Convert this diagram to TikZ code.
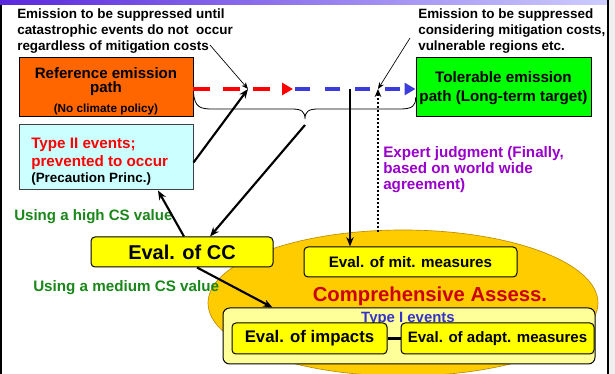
\documentclass[tikz,border=0pt]{standalone}
\usepackage{fontspec}
\setmainfont{Liberation Sans}
\usetikzlibrary{arrows.meta,calc,shapes.geometric}
\definecolor{cOrange}{RGB}{255,102,0}
\definecolor{cCyan}{RGB}{204,255,255}
\definecolor{cGreen}{RGB}{0,255,0}
\definecolor{cYellow}{RGB}{255,255,0}
\definecolor{cLightY}{RGB}{255,255,153}
\definecolor{cGold}{RGB}{255,204,0}
\definecolor{cGoldD}{RGB}{190,140,0}
\definecolor{cRed}{RGB}{255,0,0}
\definecolor{cDRed}{RGB}{204,0,0}
\definecolor{cBlue}{RGB}{60,60,220}
\definecolor{cTBlue}{RGB}{51,51,204}
\definecolor{cPurple}{RGB}{153,0,204}
\definecolor{cTGreen}{RGB}{25,135,25}
\definecolor{barL}{RGB}{90,40,220}
\definecolor{barR}{RGB}{205,205,255}
\newcommand{\fsz}[2]{\fontsize{#1}{#2}\selectfont\bfseries}
\begin{document}
\begin{tikzpicture}[x=0.75pt,y=-0.75pt,
  box/.style={draw=black, line width=0.75pt, inner sep=0pt},
  ybox/.style={box, fill=cYellow, rounded corners=3pt},
  txt/.style={inner sep=0pt, text depth=0pt},
  thinarr/.style={-{Stealth[length=5pt,width=4pt]}, line width=0.5pt},
  thickarr/.style={-{Stealth[length=7pt,width=5.5pt]}, line width=1.6pt}]
\useasboundingbox (0,0) rectangle (615,374);
\fill[white] (0,0) rectangle (615,374);
\fill[black!6] (609,0) rectangle (615,374);
\shade[left color=barL, right color=barR] (0,0) rectangle (609,5);
\draw[line width=1.5pt] (1,5) -- (1,374);
\draw[line width=1.5pt] (608,0) -- (608,374);

% comprehensive assessment ellipse
\node[ellipse, draw=cGoldD, line width=0.5pt, fill=cGold, minimum width=292.5pt, minimum height=109.5pt, inner sep=0pt] (ca) at (403,303) {};
\node[ybox, minimum width=159.75pt, minimum height=22.5pt, font=\fsz{11.4pt}{13pt}] (mit) at (410.5,262) {Eval. of mit. measures};
\node[txt, text=cDRed, font=\fsz{15.2pt}{17pt}] (comp) at (430,294) {Comprehensive Assess.};
\node[box, fill=cLightY, rounded corners=5pt, minimum width=279pt, minimum height=42pt] (outer) at (409,336) {};
\node[txt, text=cTBlue, font=\fsz{11.2pt}{13pt}] (typeI) at (408,317) {Type I events};
\node[ybox, minimum width=116.25pt, minimum height=23.25pt, font=\fsz{12.6pt}{14pt}] (imp) at (309.5,338.5) {Eval. of impacts};
\node[ybox, minimum width=144.75pt, minimum height=23.25pt, font=\fsz{11.3pt}{13pt}] (adp) at (497.5,338.5) {Eval. of adapt. measures};
\draw[line width=1.6pt] (imp.east) -- (adp.west);

% top texts
\node[txt, anchor=west, align=left, font=\fsz{10.1pt}{12pt}] (tl) at (17,30)
  {Emission to be suppressed until\\catastrophic events do not\ \ occur\\regardless of mitigation costs};
\node[txt, anchor=west, align=left, font=\fsz{10.1pt}{12pt}] (tr) at (418,30)
  {Emission to be suppressed\\considering mitigation costs,\\vulnerable regions etc.};

% boxes
\node[box, fill=cOrange, minimum width=130.5pt, minimum height=44.25pt] (ref) at (106,87.5) {};
\node[txt, align=center, font=\fsz{11.3pt}{11pt}] (reft) at (106,80) {Reference emission\\path};
\node[txt, font=\fsz{8.8pt}{10pt}] (refs) at (106,108) {(No climate policy)};
\node[box, draw=black!75, fill=cCyan, minimum width=130.5pt, minimum height=48.75pt] (t2) at (106,157.5) {};
\node[txt, anchor=west, align=left, text=cRed, font=\fsz{11.4pt}{13.5pt}] (t2t) at (31,152) {Type II events;\\prevented to occur};
\node[txt, anchor=west, font=\fsz{10.1pt}{12pt}] (t2s) at (31,178) {(Precaution Princ.)};
\node[box, fill=cGreen, minimum width=131.25pt, minimum height=44.25pt] (tol) at (503.5,87.5) {};
\node[txt, align=center, font=\fsz{11.4pt}{14pt}] (tolt) at (503.5,86.5) {Tolerable emission\\path (Long-term target)};

\node[ybox, minimum width=136.5pt, minimum height=22.5pt, font=\fsz{15pt}{17pt}] (cc) at (182,252) {Eval. of CC};

\node[txt, anchor=west, text=cTGreen, font=\fsz{11.3pt}{13pt}] (hcs) at (14,215) {Using a high CS value};
\node[txt, anchor=west, text=cTGreen, font=\fsz{11.4pt}{13pt}] (mcs) at (33,286) {Using a medium CS value};
\node[txt, anchor=west, align=left, text=cPurple, font=\fsz{11.4pt}{12pt}] (exp) at (383,167.5)
  {Expert judgment (Finally,\\based on world wide\\agreement)};

% coordinates
\coordinate (r0) at (193,89);
\coordinate (rA) at (293,89);
\coordinate (b0) at (295,89);
\coordinate (m1) at (248,89);
\coordinate (m2) at (378,89);
\coordinate (v1) at (350,89);
\coordinate (c1) at (210,45);
\coordinate (c2) at (410,38);
\coordinate (tip) at (305,119);
\coordinate (d0) at (378,232);

% emission paths
\draw[cRed, line width=3pt, dash pattern=on 12.75pt off 9.75pt, -{Triangle[length=8.25pt,width=9pt]}] (r0) -- (rA);
\draw[cBlue, line width=3pt, dash pattern=on 11.25pt off 11.25pt, -{Triangle[length=8.25pt,width=9pt]}] (b0) -- (tol.west |- r0);

% brace
\draw[line width=0.6pt] ($(ref.east)+(0,6)$) .. controls (195,107) and (200,109) .. (212,109)
  -- (292,109) .. controls (302,109) and (305,112) .. (tip)
  .. controls (305,112) and (308,109) .. (318,109) -- (400,109)
  .. controls (412,109) and (416,106) .. ($(tol.west)+(0,10)$);

% connectors
\draw[thinarr] (c1) -- (m1);
\draw[thinarr] (c2) -- (m2);
\draw[thickarr] ($(t2.east)+(0,5)$) -- (m1);
\draw[thickarr] ($(tip)+(0,6)$) -- ($(cc.north)+(28,0)$);
\draw[thickarr] ($(cc.north)+(2,0)$) -- ($(t2.south)+(52,0)$);
\draw[thickarr] ($(cc.south)+(15,0)$) -- ($(outer.north west)+(50,0)$);
\draw[thickarr] (v1) -- (v1 |- mit.north);
\draw[line width=1.5pt, dash pattern=on 1.5pt off 1.5pt, -{Stealth[length=6pt,width=5pt]}] (d0) -- (m2);
\end{tikzpicture}
\end{document}
